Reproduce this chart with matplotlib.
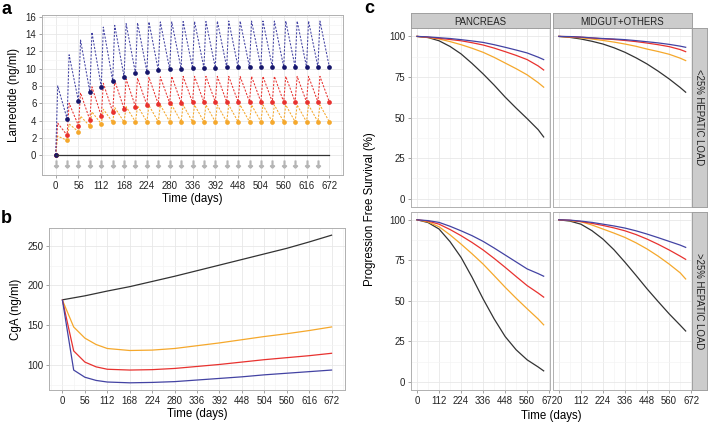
import matplotlib.pyplot as plt
from matplotlib.ticker import MultipleLocator, FixedLocator

plt.rcParams['font.family'] = ['Liberation Sans', 'DejaVu Sans']

# colours of the dose groups (placebo, low, mid, high)
col_black = '#333333'
col_orange = '#f5a82c'
col_red = '#e8322f'
col_blue = '#4343a3'
col_navy = '#16166b'

# ---- panel a: lanreotide concentrations, doses every 28 days ----
dose_days = list(range(0, 672, 28))
trough_days = list(range(0, 673, 28))
peak_lag = 5

blue_trough = [0, 4.2, 6.2, 7.3, 7.9, 8.6, 9.05, 9.45, 9.65, 9.8, 9.9, 10.0, 10.05,
               10.1, 10.1, 10.15, 10.15, 10.15, 10.2, 10.2, 10.2, 10.2, 10.2, 10.2, 10.2]
blue_peak = [8.0, 11.6, 13.3, 14.2, 14.8, 15.0, 15.2, 15.3, 15.4, 15.4, 15.4, 15.45,
             15.45, 15.45, 15.5, 15.5, 15.5, 15.5, 15.5, 15.5, 15.5, 15.5, 15.5, 15.5]
red_trough = [0, 2.3, 3.4, 4.05, 4.5, 5.0, 5.35, 5.6, 5.78, 5.9, 6.0, 6.05, 6.1,
              6.12, 6.15, 6.15, 6.15, 6.15, 6.15, 6.15, 6.15, 6.15, 6.15, 6.15, 6.15]
red_peak = [3.7, 6.0, 7.2, 7.9, 8.3, 8.6, 8.8, 8.9, 9.0, 9.05, 9.1, 9.1,
            9.1, 9.1, 9.1, 9.1, 9.1, 9.1, 9.1, 9.1, 9.1, 9.1, 9.1, 9.1]
orange_trough = [0, 1.7, 2.7, 3.35, 3.6, 3.8, 3.82, 3.84, 3.85, 3.85, 3.85, 3.85, 3.85,
                 3.85, 3.85, 3.85, 3.85, 3.85, 3.85, 3.85, 3.85, 3.85, 3.85, 3.85, 3.85]
orange_peak = [2.2, 3.6, 4.5, 5.0, 5.3, 5.5, 5.6, 5.7, 5.75, 5.8, 5.8, 5.8,
               5.8, 5.8, 5.8, 5.8, 5.8, 5.8, 5.8, 5.8, 5.8, 5.8, 5.8, 5.8]
placebo_days = [0, 672]
placebo_conc = [0, 0]
arrow_level = -1.05
yticks_a = [0, 2, 4, 6, 8, 10, 12, 14, 16]

# ---- panel b: CgA ----
days_b = [0, 28, 56, 84, 112, 168, 224, 280, 336, 392, 448, 504, 560, 616, 672]
cga_black = [182, 184.5, 187, 190, 193, 198.5, 205, 211.5, 218.5, 225.5, 232.5, 239.5, 246.5, 254.5, 263]
cga_orange = [181.5, 148, 134, 126, 121, 118.5, 119, 121, 124.5, 128, 132, 136, 139.5, 143.5, 148]
cga_red = [181.5, 118, 104, 98, 95, 94, 94.5, 96, 98.5, 101, 104, 107, 109.5, 112, 115]
cga_blue = [181.5, 94, 85, 81, 79, 78, 78.5, 79.5, 81.5, 83.5, 85.5, 88, 90, 92, 94]

# ---- panel c: progression free survival ----
days_c = [0, 56, 112, 168, 224, 280, 336, 392, 448, 504, 560, 616, 644]
col_labels = ['PANCREAS', 'MIDGUT+OTHERS']
row_labels = ['<25% HEPATIC LOAD', '>25% HEPATIC LOAD']

pfs_panc_low_black = [100, 99.3, 97.3, 93.8, 89.2, 83.3, 76.9, 70, 62.6, 55.8, 49.3, 42.5, 38.0]
pfs_panc_low_orange = [100, 99.3, 98.4, 96.8, 94.9, 92.7, 90.2, 87.1, 83.6, 80.1, 76.3, 71.5, 68.7]
pfs_panc_low_red = [100, 99.5, 98.8, 98.1, 97.3, 96.1, 94.7, 92.8, 90.6, 88.3, 85.7, 81.8, 79.3]
pfs_panc_low_blue = [100, 99.7, 99.2, 98.7, 98.0, 97.2, 96.3, 94.9, 93.3, 91.6, 89.8, 87.2, 85.7]

pfs_mid_low_black = [100, 99.4, 98.4, 97.0, 95.3, 93.0, 90.2, 86.8, 83.0, 78.6, 73.8, 68.5, 65.6]
pfs_mid_low_orange = [100, 99.6, 99.1, 98.4, 97.5, 96.5, 95.3, 93.9, 92.2, 90.7, 89.0, 86.6, 85.1]
pfs_mid_low_red = [100, 99.8, 99.5, 99.0, 98.5, 98.1, 97.5, 96.8, 95.9, 94.9, 93.7, 91.9, 90.6]
pfs_mid_low_blue = [100, 99.9, 99.6, 99.1, 98.7, 98.4, 98.0, 97.4, 96.7, 96.0, 95.1, 94.0, 93.3]

pfs_panc_high_black = [100, 98.3, 94.3, 86.5, 76.8, 64.5, 51.2, 38.9, 28.0, 19.8, 13.6, 9.2, 6.8]
pfs_panc_high_orange = [100, 98.7, 95.7, 90.7, 85.0, 79.0, 72.7, 65.6, 58.4, 51.6, 45.1, 38.8, 35.2]
pfs_panc_high_red = [100, 99.2, 97.3, 94.0, 90.2, 86.0, 81.4, 76.2, 70.7, 65.0, 59.4, 54.8, 52.3]
pfs_panc_high_blue = [100, 99.5, 98.4, 96.0, 93.2, 90.2, 86.7, 82.6, 78.3, 74.0, 69.7, 66.8, 65.2]

pfs_mid_high_black = [100, 99.2, 97.3, 93.3, 88.1, 81.5, 73.8, 65.7, 57.4, 49.6, 42.0, 35.0, 31.4]
pfs_mid_high_orange = [100, 99.5, 98.8, 96.8, 94.3, 91.8, 89.1, 85.8, 82.0, 77.6, 72.7, 67.3, 63.5]
pfs_mid_high_red = [100, 99.7, 98.9, 97.8, 96.5, 95.0, 93.2, 90.9, 88.1, 84.9, 81.4, 77.6, 75.6]
pfs_mid_high_blue = [100, 99.8, 99.2, 98.4, 97.3, 96.2, 94.9, 93.2, 91.2, 89.0, 86.7, 84.4, 83.0]

W, H = 708, 424


def px_axes(fig, x0, x1, y0, y1):
    # place an axes by pixel box (top-left origin)
    return fig.add_axes([x0 / W, 1 - y1 / H, (x1 - x0) / W, (y1 - y0) / H])


def style(ax):
    ax.set_facecolor('white')
    for s in ax.spines.values():
        s.set_color('#b0b0b0')
        s.set_linewidth(0.7)
    ax.grid(which='major', color='#e6e6e6', lw=0.55)
    ax.grid(which='minor', color='#f3f3f3', lw=0.45)
    ax.set_axisbelow(True)
    ax.tick_params(which='major', length=2.5, width=0.5, color='#808080',
                   labelsize=6.9, labelcolor='#222222', pad=1.5)
    ax.tick_params(which='minor', length=0)


def strip(fig, box, label, rot):
    st = px_axes(fig, *box)
    st.set_facecolor('#cccccc')
    st.set_xticks([])
    st.set_yticks([])
    for s in st.spines.values():
        s.set_color('#a0a0a0')
        s.set_linewidth(0.7)
    st.text(0.5, 0.5 if rot else 0.45, label, ha='center', va='center', rotation=rot,
            fontsize=6.9, color='#222222', transform=st.transAxes)


def sawtooth(troughs, peaks):
    xs, ys = [], []
    for i, d in enumerate(dose_days):
        xs += [trough_days[i], d + peak_lag]
        ys += [troughs[i], peaks[i]]
    xs.append(trough_days[-1])
    ys.append(troughs[-1])
    return xs, ys


fig = plt.figure(figsize=(W / 100, H / 100), dpi=100)

# panel a
ax = px_axes(fig, 42, 343, 15, 175)
style(ax)
for tr, pk, lc, mc in [(orange_trough, orange_peak, col_orange, col_orange),
                       (red_trough, red_peak, col_red, col_red),
                       (blue_trough, blue_peak, col_blue, col_navy)]:
    xs, ys = sawtooth(tr, pk)
    ax.plot(xs, ys, color=lc, lw=0.75, ls=(0, (2.0, 1.4)))
    ax.plot(trough_days, tr, 'o', color=mc, ms=3.4, mec='none')
ax.plot(placebo_days, placebo_conc, color=col_black, lw=0.9)
ax.plot(dose_days, [arrow_level] * len(dose_days), ls='none', marker=r'$\downarrow$',
        color='#b5b5b5', ms=5)
ax.set_xlim(-33.6, 705.6)
ax.set_ylim(-2.3, 16.2)
ax.xaxis.set_major_locator(MultipleLocator(56))
ax.xaxis.set_minor_locator(MultipleLocator(28))
ax.yaxis.set_major_locator(FixedLocator(yticks_a))
ax.yaxis.set_minor_locator(FixedLocator([t + 1 for t in yticks_a[:-1]]))
ax.set_xlabel('Time (days)', fontsize=8.3, labelpad=2)
ax.set_ylabel('Lanreotide (ng/ml)', fontsize=8.3, labelpad=4)

# panel b
ax = px_axes(fig, 49, 345, 228, 390)
style(ax)
ax.plot(days_b, cga_black, color=col_black, lw=0.9)
ax.plot(days_b, cga_orange, color=col_orange, lw=0.9)
ax.plot(days_b, cga_red, color=col_red, lw=0.9)
ax.plot(days_b, cga_blue, color=col_blue, lw=0.9)
ax.set_xlim(-33.6, 705.6)
ax.set_ylim(69, 272)
ax.xaxis.set_major_locator(MultipleLocator(56))
ax.xaxis.set_minor_locator(MultipleLocator(28))
ax.yaxis.set_major_locator(MultipleLocator(50))
ax.yaxis.set_minor_locator(MultipleLocator(25))
ax.set_xlabel('Time (days)', fontsize=8.3, labelpad=2)
ax.set_ylabel('CgA (ng/ml)', fontsize=8.3, labelpad=4)

# panel c
grid = [[(pfs_panc_low_black, pfs_panc_low_orange, pfs_panc_low_red, pfs_panc_low_blue),
         (pfs_mid_low_black, pfs_mid_low_orange, pfs_mid_low_red, pfs_mid_low_blue)],
        [(pfs_panc_high_black, pfs_panc_high_orange, pfs_panc_high_red, pfs_panc_high_blue),
         (pfs_mid_high_black, pfs_mid_high_orange, pfs_mid_high_red, pfs_mid_high_blue)]]
xcols = [(410.7, 550), (552.5, 692)]
yrows = [(28.3, 206.7), (211.7, 390)]
for r in range(2):
    for c in range(2):
        ax = px_axes(fig, xcols[c][0], xcols[c][1], yrows[r][0], yrows[r][1])
        style(ax)
        for vals, colr in zip(grid[r][c], [col_black, col_orange, col_red, col_blue]):
            ax.plot(days_c, vals, color=colr, lw=0.9)
        ax.set_xlim(-32.2, 676.2)
        ax.set_ylim(-5, 105)
        ax.xaxis.set_major_locator(MultipleLocator(112))
        ax.xaxis.set_minor_locator(MultipleLocator(56))
        ax.yaxis.set_major_locator(MultipleLocator(25))
        ax.yaxis.set_minor_locator(MultipleLocator(12.5))
        if r == 0:
            ax.tick_params(axis='x', which='both', length=0, labelbottom=False)
            strip(fig, (xcols[c][0], xcols[c][1], 13.3, 28.3), col_labels[c], 0)
        if c == 1:
            ax.tick_params(axis='y', which='both', length=0, labelleft=False)
            strip(fig, (692, 707, yrows[r][0], yrows[r][1]), row_labels[r], -90)

fig.text(370 / W, 1 - 209 / H, 'Progression Free Survival (%)', rotation=90,
         ha='center', va='center', fontsize=8.3)
fig.text(551 / W, 1 - 416 / H, 'Time (days)', ha='center', va='center', fontsize=8.3)

fig.text(1 / W, 1 - 1 / H, 'a', fontsize=13, fontweight='bold', va='top', ha='left')
fig.text(1 / W, 1 - 210 / H, 'b', fontsize=13, fontweight='bold', va='top', ha='left')
fig.text(364 / W, 1 - 0 / H, 'c', fontsize=13, fontweight='bold', va='top', ha='left')

fig.savefig('out.png', dpi=100)
